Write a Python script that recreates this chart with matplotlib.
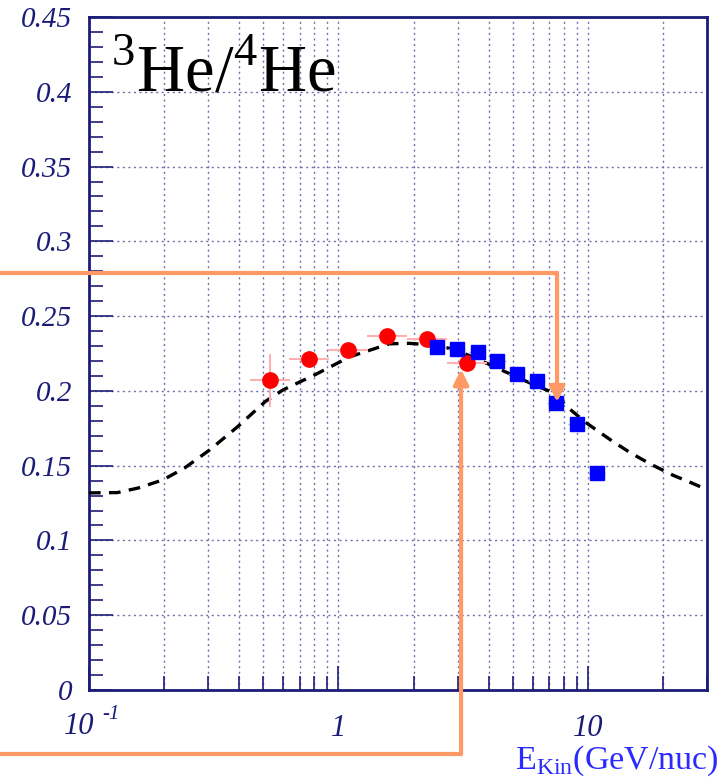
import numpy as np
import matplotlib
matplotlib.use("Agg")
import matplotlib.pyplot as plt
from matplotlib.ticker import FixedLocator, MultipleLocator, NullFormatter

plt.rcParams['font.family'] = ['Liberation Serif', 'DejaVu Serif']
plt.rcParams['mathtext.fontset'] = 'custom'
plt.rcParams['mathtext.rm'] = 'Liberation Serif'

# red points (low energy) with errors
red_e = [0.53, 0.76, 1.09, 1.57, 2.27, 3.28]
red_r = [0.207, 0.2215, 0.2275, 0.2368, 0.2348, 0.2187]
red_dx = [0.08, 0.08, 0.08, 0.08, 0.08, 0.08]   # half-width in decades
red_dy = [0.018, 0.005, 0.004, 0.003, 0.003, 0.003]

# blue points (high energy)
blue_e = [2.49, 2.99, 3.63, 4.33, 5.2, 6.25, 7.45, 9.04, 10.86]
blue_r = [0.2295, 0.228, 0.226, 0.220, 0.2114, 0.2067, 0.192, 0.178, 0.145]

# model curve
model_e = [0.1, 0.13, 0.157, 0.198, 0.242, 0.305, 0.394, 0.51, 0.6, 0.81, 1.11,
           1.6, 1.92, 2.5, 3.0, 3.9, 5.0, 6.0, 7.2, 8.5, 9.85, 12.5, 15.0,
           18.1, 22.0, 26.0, 30.0]
model_r = [0.1318, 0.132, 0.135, 0.1405, 0.1485, 0.1606, 0.176, 0.193, 0.2007,
           0.211, 0.2228, 0.2315, 0.2318, 0.2305, 0.227, 0.2187, 0.2105, 0.2045,
           0.199, 0.1875, 0.1786, 0.1665, 0.158, 0.1505, 0.1435, 0.1385, 0.134]

x_ticks = [0.1, 1, 10]
x_ticklabels = ['', '1', '10']

navy = '#1c1c78'
grid_c = '#7070b0'
orange = '#ff9966'

fig = plt.figure(figsize=(7.24, 7.84), dpi=100)
ax = fig.add_axes([0.1229, 0.1199, 0.8536, 0.8584])
ax.set_xscale('log')
ax.set_xlim(0.1, 30)
ax.set_ylim(0, 0.45)

# grid
ax.grid(True, which='major', axis='both', color=grid_c, ls=(0, (1.5, 2.5)), lw=1.0)
ax.grid(True, which='minor', axis='x', color=grid_c, ls=(0, (1.5, 2.5)), lw=1.0)

ax.plot(model_e, model_r, color='black', ls=(0, (3.5, 2.5)), lw=2.4, zorder=3)

red_lo = [e - e * 10 ** (-d) for e, d in zip(red_e, red_dx)]
red_hi = [e * 10 ** d - e for e, d in zip(red_e, red_dx)]
ax.errorbar(red_e, red_r, xerr=[red_lo, red_hi], yerr=red_dy, fmt='none',
            ecolor='#ffb0b0', elinewidth=1.5, capsize=0, zorder=4)
ax.plot(red_e, red_r, 'o', color='red', ms=11, mec='red', zorder=5)

blue_dx = [e * 0.08 for e in blue_e]
ax.errorbar(blue_e, blue_r, xerr=blue_dx, fmt='none', ecolor='#a8a8ff',
            elinewidth=1.0, capsize=0, zorder=4)
ax.plot(blue_e, blue_r, 's', color='blue', ms=10.5, mec='blue', zorder=5)

# ticks and frame
ax.yaxis.set_major_locator(MultipleLocator(0.05))
ax.yaxis.set_minor_locator(MultipleLocator(0.01))
ax.xaxis.set_major_locator(FixedLocator(x_ticks))
ax.xaxis.set_minor_formatter(NullFormatter())
ax.set_yticklabels(['0' if v == 0 else f'{v:g}' for v in ax.get_yticks()])
ax.set_xticklabels(x_ticklabels)
ax.tick_params(which='both', direction='in', color=navy, width=1.2,
               labelcolor=navy, labelsize=21, top=False, right=False)
ax.tick_params(axis='x', labelsize=22)
ax.tick_params(which='major', length=17)
ax.tick_params(which='minor', length=10)
ax.tick_params(axis='x', which='major', pad=17)
ax.tick_params(axis='y', which='major', pad=12)
for lab in ax.get_yticklabels() + ax.get_xticklabels():
    lab.set_style('italic')

# 10^-1 label at the left end of the axis
ax.annotate('10', xy=(x_ticks[0], 0), xycoords=('data', 'axes fraction'),
            xytext=(-7, -16), textcoords='offset points', ha='center', va='top',
            fontsize=22, style='italic', color=navy, annotation_clip=False)
ax.annotate('-1', xy=(x_ticks[0], 0), xycoords=('data', 'axes fraction'),
            xytext=(16, -11), textcoords='offset points', ha='center', va='top',
            fontsize=15, style='italic', color=navy, annotation_clip=False)

for sp in ax.spines.values():
    sp.set_color(navy)
    sp.set_linewidth(2)

ax.text(0.035, 0.889, r'$^{3}\mathrm{He}/^{4}\mathrm{He}$', transform=ax.transAxes,
        fontsize=48, color='black', va='baseline', ha='left')

fig.text(0.993, 0.008, r'$\mathrm{E}_{\mathrm{Kin}}\mathrm{(GeV/nuc)}$',
         color='#2a2aff', fontsize=24.5, ha='right', va='bottom')

# elbow arrows pointing at two of the points
x_fig_left = ax.transData.inverted().transform(fig.transFigure.transform((0, 0)))[0]
arrows = [(7.52, 0.279, 0.1925), (3.1, -0.043, 0.2145)]
for xa, yh, ytip in arrows:
    ax.plot([x_fig_left, xa], [yh, yh], color=orange, lw=3, clip_on=False,
            solid_capstyle='butt', zorder=6)
    ax.annotate('', xy=(xa, ytip), xytext=(xa, yh),
                arrowprops=dict(arrowstyle='-|>,head_length=0.9,head_width=0.45',
                                color=orange, lw=3, shrinkA=0, shrinkB=0),
                annotation_clip=False, zorder=6)

fig.savefig('out.png', dpi=100)
